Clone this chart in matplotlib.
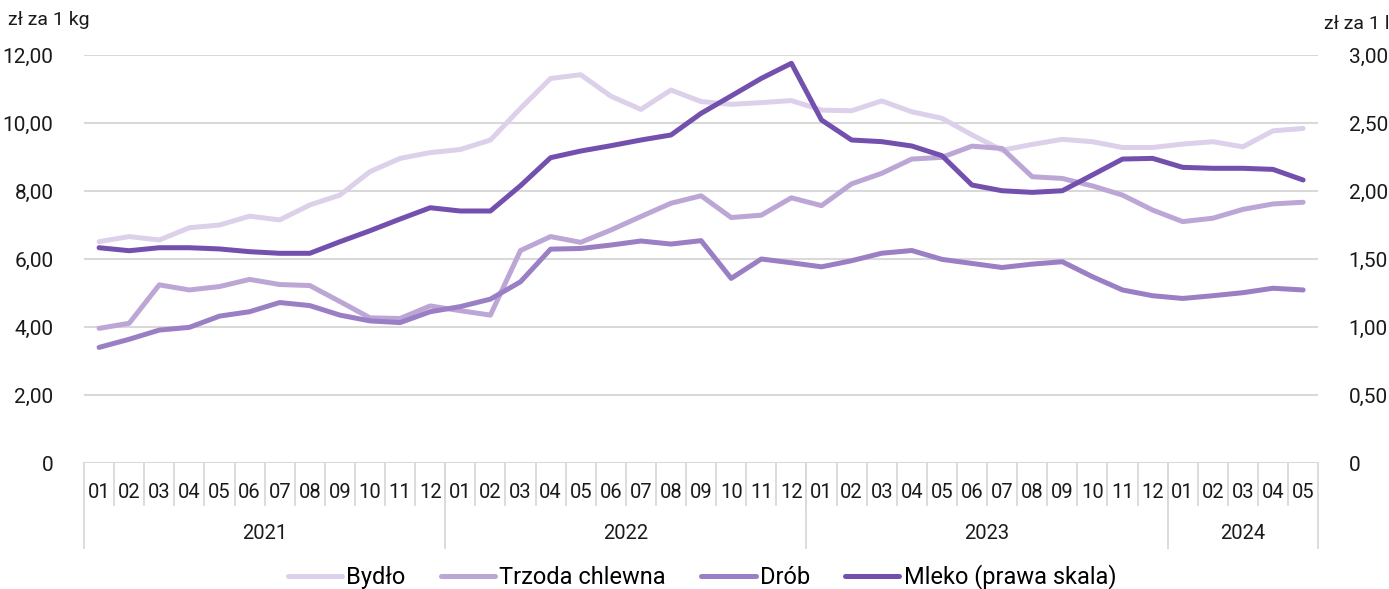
import matplotlib
matplotlib.use("Agg")
import matplotlib.pyplot as plt
from matplotlib.ticker import FuncFormatter
import matplotlib.transforms as mtransforms

plt.rcParams["font.family"] = ["Roboto", "DejaVu Sans"]

# --- data ---
years = ["2021", "2022", "2023", "2024"]
months_per_year = [12, 12, 12, 5]
month_labels = [f"{m:02d}" for n in months_per_year for m in range(1, n + 1)]

bydlo = [6.51, 6.66, 6.56, 6.92, 7.00, 7.26, 7.15, 7.59, 7.88, 8.57, 8.96, 9.13,
         9.22, 9.50, 10.43, 11.31, 11.42, 10.79, 10.40, 10.97, 10.63, 10.55, 10.60, 10.66,
         10.38, 10.36, 10.65, 10.33, 10.14, 9.65, 9.20, 9.37, 9.52, 9.45, 9.28, 9.28,
         9.38, 9.45, 9.30, 9.77, 9.84]
trzoda = [3.96, 4.11, 5.24, 5.09, 5.19, 5.40, 5.25, 5.22, 4.75, 4.27, 4.25, 4.62,
          4.48, 4.35, 6.25, 6.66, 6.49, 6.85, 7.25, 7.64, 7.86, 7.22, 7.29, 7.80,
          7.57, 8.21, 8.52, 8.94, 8.99, 9.32, 9.25, 8.42, 8.37, 8.15, 7.88, 7.44,
          7.10, 7.20, 7.46, 7.62, 7.67]
drob = [3.40, 3.64, 3.91, 3.99, 4.32, 4.45, 4.72, 4.63, 4.35, 4.18, 4.13, 4.45,
        4.60, 4.82, 5.33, 6.29, 6.31, 6.41, 6.53, 6.44, 6.54, 5.43, 6.00, 5.89,
        5.77, 5.95, 6.17, 6.25, 5.99, 5.87, 5.75, 5.85, 5.92, 5.48, 5.09, 4.92,
        4.84, 4.92, 5.01, 5.14, 5.09]
mleko = [1.583, 1.561, 1.583, 1.583, 1.574, 1.554, 1.542, 1.542, 1.627, 1.708, 1.794, 1.877,
         1.853, 1.853, 2.039, 2.245, 2.294, 2.333, 2.375, 2.412, 2.571, 2.699, 2.828, 2.939,
         2.522, 2.375, 2.363, 2.331, 2.260, 2.044, 2.002, 1.990, 2.002, 2.118, 2.235, 2.240,
         2.174, 2.167, 2.167, 2.159, 2.081]

colors = {"Bydło": "#dcd0ea", "Trzoda chlewna": "#bca6d6", "Drób": "#9a7fc4",
          "Mleko (prawa skala)": "#7350ae"}

x = list(range(len(month_labels)))

fig = plt.figure(figsize=(13.89, 5.89), dpi=100)
ax = fig.add_axes([0.0605, 0.2139, 0.8885, 0.6927])
ax2 = ax.twinx()

lw = 3.6
style = dict(lw=lw, solid_capstyle="round", solid_joinstyle="round")
h1, = ax.plot(x, bydlo, color=colors["Bydło"], **style)
h2, = ax.plot(x, trzoda, color=colors["Trzoda chlewna"], **style)
h3, = ax.plot(x, drob, color=colors["Drób"], **style)
h4, = ax2.plot(x, mleko, color=colors["Mleko (prawa skala)"], **style)

ax.set_xlim(-0.5, len(x) - 0.5)
ax.set_ylim(0, 12)
ax2.set_ylim(0, 3)
ax.set_yticks(range(0, 13, 2))
ax2.set_yticks([0, 0.5, 1, 1.5, 2, 2.5, 3])


def pl_fmt(v, pos):
    if v == 0:
        return "0"
    return f"{v:.2f}".replace(".", ",")


ax.yaxis.set_major_formatter(FuncFormatter(pl_fmt))
ax2.yaxis.set_major_formatter(FuncFormatter(pl_fmt))

for a in (ax, ax2):
    for s in a.spines.values():
        s.set_visible(False)
    a.tick_params(axis="y", length=0, labelsize=15, colors="#1a1a1a")
ax.tick_params(axis="y", pad=22)
ax2.tick_params(axis="y", pad=22)
ax.set_xticks([])

for yv in range(2, 13, 2):
    ax.axhline(yv, color="#d9d9d9", lw=1.5, zorder=0)
ax.axhline(0, color="#d9d9d9", lw=1.5, zorder=0)

# multi-level category axis
trans = mtransforms.blended_transform_factory(ax.transData, ax.transAxes)
for i, lab in enumerate(month_labels):
    ax.text(i, -0.073, lab, transform=trans, ha="center", va="center",
            fontsize=14.5, color="#1a1a1a")
    if i > 0:
        ax.plot([i - 0.5, i - 0.5], [0, -0.103], transform=trans, color="#d9d9d9",
                lw=1.3, clip_on=False)

start = 0
ax.plot([-0.5, -0.5], [0, -0.208], transform=trans, color="#d9d9d9", lw=1.3, clip_on=False)
for yr, n in zip(years, months_per_year):
    end = start + n
    ax.text((start + end - 1) / 2, -0.172, yr, transform=trans, ha="center", va="center",
            fontsize=14.5, color="#1a1a1a")
    ax.plot([end - 0.5, end - 0.5], [0, -0.208], transform=trans, color="#d9d9d9",
            lw=1.3, clip_on=False)
    start = end

fig.text(8 / 1389, 1 - 20 / 589, "zł za 1 kg", ha="left", va="center", fontsize=14, color="#1a1a1a")
fig.text(1389 / 1389, 1 - 24 / 589, "zł za 1 l", ha="right", va="center", fontsize=14, color="#1a1a1a")

fig.legend([h1, h2, h3, h4], list(colors.keys()), loc="center", ncol=4,
           bbox_to_anchor=(702 / 1389, 1 - 577 / 589), frameon=False, fontsize=17,
           handlelength=2.3, handletextpad=0.17, columnspacing=1.5,
           borderaxespad=0, borderpad=0)

fig.savefig("out.png", dpi=100)
